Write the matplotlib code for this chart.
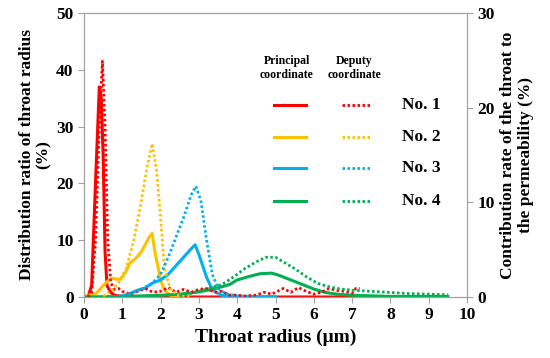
import matplotlib
matplotlib.use("Agg")
import matplotlib.pyplot as plt

plt.rcParams['font.family'] = ['Liberation Serif', 'DejaVu Serif']
plt.rcParams['font.weight'] = 'bold'

# principal coordinate (left axis, distribution ratio %)
red_x = [0, 0.1, 0.2, 0.3, 0.4, 0.45, 0.5, 0.55, 0.6, 0.7, 0.8, 1.0, 1.2, 7.3]
red_y = [0, 0, 2, 20, 37, 35, 25, 8, 2, 0.8, 0.3, 0.1, 0, 0]
yel_x = [0, 0.3, 0.5, 0.7, 0.8, 0.95, 1.1, 1.2, 1.35, 1.5, 1.7, 1.78, 1.85, 2.0, 2.1, 2.25, 2.5]
yel_y = [0.2, 0.5, 2, 3.3, 3.2, 3.1, 4.5, 6, 6.8, 8, 10.5, 11.2, 8, 3, 1.2, 0.3, 0]
blu_x = [0.8, 1.0, 1.2, 1.4, 1.6, 1.8, 2.0, 2.2, 2.4, 2.6, 2.8, 2.9, 3.0, 3.1, 3.2, 3.3, 3.4, 3.6, 3.8, 4.0, 5.0]
blu_y = [0, 0.2, 0.6, 1.2, 1.6, 2.5, 3, 4, 5.5, 7, 8.5, 9.2, 7.5, 5.5, 3.5, 2, 1, 0.3, 0.1, 0, 0]
grn_x = [0, 1.0, 2.0, 2.5, 3.0, 3.3, 3.6, 3.8, 4.0, 4.3, 4.6, 4.9, 5.1, 5.4, 5.7, 6.0, 6.3, 6.6, 7.0, 7.5, 8.0, 9.5]
grn_y = [0, 0.1, 0.3, 0.5, 0.9, 1.3, 1.8, 2.2, 3.0, 3.6, 4.1, 4.2, 3.8, 3.0, 2.2, 1.4, 0.8, 0.5, 0.3, 0.2, 0.1, 0.1]

# deputy coordinate (right axis, contribution rate %)
red_dx = [0.1, 0.2, 0.3, 0.4, 0.48, 0.55, 0.62, 0.7, 0.8, 0.9, 1.0, 1.2, 1.4, 1.6, 1.8, 2.0, 2.2, 2.4, 2.6,
          2.8, 3.0, 3.2, 3.4, 3.6, 3.8, 4.0, 4.2, 4.5, 4.7, 4.9, 5.2, 5.4, 5.6, 5.8, 6.0, 6.2, 6.4, 6.6,
          6.8, 7.0, 7.1, 7.2]
red_dy = [0, 0.5, 6, 18, 24.9, 18, 6, 1.5, 0.8, 0.9, 0.6, 0.3, 0.6, 0.9, 0.5, 0.6, 1.0, 0.5, 0.8,
          0.5, 0.8, 0.9, 0.5, 0.6, 0.2, 0.2, 0.1, 0.2, 0.5, 0.3, 0.9, 0.5, 1.0, 0.6, 0.3, 0.5, 0.9, 0.7,
          0.6, 0.4, 0.9, 0.9]
yel_dx = [0.5, 0.7, 0.9, 1.1, 1.3, 1.5, 1.65, 1.78, 1.9, 2.0, 2.1, 2.25, 2.4, 2.6, 2.8]
yel_dy = [0.12, 0.6, 1.5, 3, 6, 10.2, 13.8, 16.2, 13.2, 8.4, 3, 0.9, 0.3, 0.06, 0]
blu_dx = [1.0, 1.4, 1.8, 2.0, 2.2, 2.4, 2.6, 2.8, 2.92, 3.05, 3.2, 3.35, 3.5, 3.7, 4.0, 4.5, 5.0]
blu_dy = [0.12, 0.6, 1.5, 2.4, 4.2, 6.3, 8.4, 10.8, 11.7, 10.2, 6, 2.4, 0.9, 0.36, 0.12, 0.06, 0]
grn_dx = [2.5, 3.0, 3.3, 3.6, 3.9, 4.2, 4.5, 4.75, 5.0, 5.2, 5.5, 5.8, 6.1, 6.4, 6.7, 7.0, 7.5, 8.0,
          8.5, 9.0, 9.5]
grn_dy = [0.12, 0.6, 0.96, 1.32, 2.1, 3.0, 3.72, 4.2, 4.2, 3.72, 3.0, 2.16, 1.44, 1.08, 0.84, 0.72,
          0.6, 0.48, 0.36, 0.3, 0.24]

labels = ['No. 1', 'No. 2', 'No. 3', 'No. 4']
colors = ['#FF0000', '#FFC000', '#00B0F0', '#00B050']

fig = plt.figure(figsize=(5.5, 3.58), dpi=100)
ax = fig.add_axes([84 / 550, 61 / 358, 383 / 550, 284 / 358])
ax2 = ax.twinx()

dot = (0, (0.9, 0.9))
principal = [(red_x, red_y), (yel_x, yel_y), (blu_x, blu_y), (grn_x, grn_y)]
deputy = [(red_dx, red_dy), (yel_dx, yel_dy), (blu_dx, blu_dy), (grn_dx, grn_dy)]
for (x, y), c in zip(principal, colors):
    ax.plot(x, y, color=c, lw=2.2)
for (x, y), c in zip(deputy, colors):
    ax2.plot(x, y, color=c, lw=2, linestyle=dot)

ax.set_xlim(0, 10)
ax.set_ylim(0, 50)
ax2.set_ylim(0, 30)
ax.set_xticks(range(0, 11))
ax.set_yticks(range(0, 51, 10))
ax2.set_yticks(range(0, 31, 10))

for a in (ax, ax2):
    for s in a.spines.values():
        s.set_color('#A0A0A0')
    a.tick_params(colors='#A0A0A0', labelcolor='black', labelsize=12.5, length=4)

ax.set_xlabel('Throat radius (μm)', fontsize=14, fontweight='bold', labelpad=4)
ax.set_ylabel('Distribution ratio of throat radius\n(%)', fontsize=12.5, fontweight='bold',
              labelpad=3, linespacing=1.1)
ax2.set_ylabel('Contribution rate of the throat to\nthe permeability (%)', fontsize=12.5,
               fontweight='bold', labelpad=4, linespacing=1.1)

# legend drawn by hand in figure pixels
trans = fig.transFigure
fig.text(287 / 550, 1 - 68 / 358, 'Principal\ncoordinate', fontsize=8.5, ha='center', va='center',
         linespacing=1.3)
fig.text(354 / 550, 1 - 68 / 358, 'Deputy\ncoordinate', fontsize=8.5, ha='center', va='center',
         linespacing=1.3)
ys = [105, 137, 168, 201]
for lab, c, yp in zip(labels, colors, ys):
    fy = 1 - yp / 358
    fig.add_artist(plt.Line2D([274 / 550, 306 / 550], [fy, fy], color=c, lw=2.2, transform=trans))
    fig.add_artist(plt.Line2D([342 / 550, 372 / 550], [fy, fy], color=c, lw=2, linestyle=dot,
                              transform=trans))
    fig.text(402 / 550, fy, lab, fontsize=12.5, ha='left', va='center')

fig.savefig('out.png', dpi=100)
